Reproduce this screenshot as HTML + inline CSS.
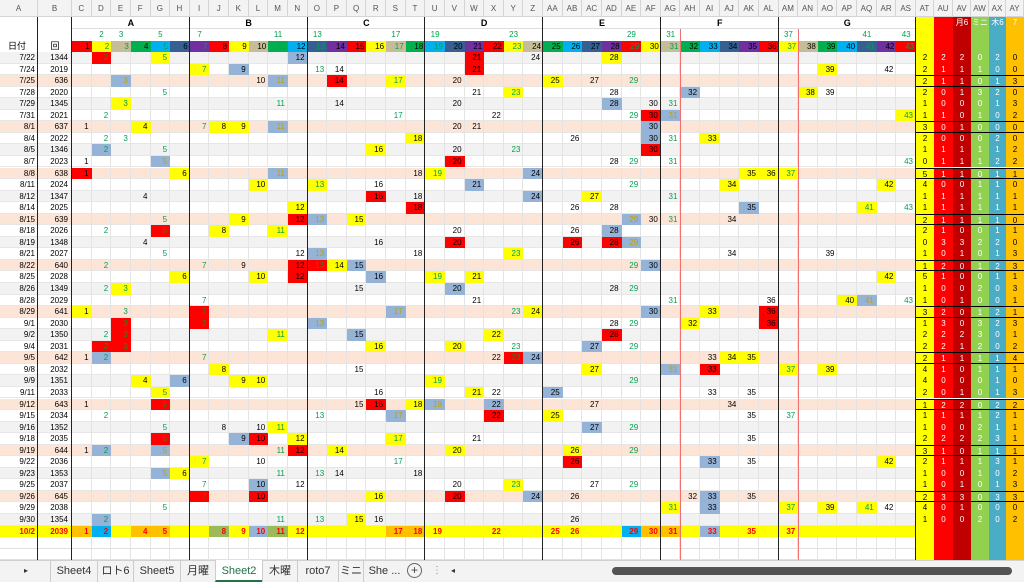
<!DOCTYPE html>
<html><head><meta charset="utf-8"><style>
body{margin:0;width:1024px;height:582px;overflow:hidden;background:#fff;font-family:"Liberation Sans","Noto Sans CJK JP",sans-serif;position:relative}
.c{position:absolute;box-sizing:border-box;text-align:center;white-space:nowrap;overflow:hidden}
.l{position:absolute}
</style></head><body>
<div id="g"></div>
<script>
const g=document.getElementById('g');
let H='';
function box(x,y,w,h,css,txt){H+=`<div class="c" style="left:${x}px;top:${y}px;width:${w}px;height:${h}px;line-height:${h}px;${css}">${txt||''}</div>`;}
const W=(916-72)/43, X=n=>72+(n-1)*W;
const RX=[916,934,953,971,989,1006,1024];
const primes=[2,3,5,7,11,13,17,19,23,29,31,37,41,43];
const RH=11.55, Y0=52;
// column header row
box(0,0,1024,17,'background:#f3f3f3;border-bottom:1px solid #d4d4d4');
const letters=[];
const AZ='ABCDEFGHIJKLMNOPQRSTUVWXYZ';
for(let i=2;i<51;i++){letters.push(i<26?AZ[i]:'A'+AZ[i-26]);}
box(0,0,38,17,'font-size:8px;color:#555;border-right:1px solid #d4d4d4','A');
box(38,0,34,17,'font-size:8px;color:#555;border-right:1px solid #d4d4d4','B');
for(let n=1;n<=43;n++)box(X(n),0,W,17,'font-size:8px;color:#555;border-right:1px solid #d4d4d4',letters[n-1]);
for(let k=0;k<6;k++)box(RX[k],0,RX[k+1]-RX[k],17,'font-size:8px;color:#555;border-right:1px solid #d4d4d4',letters[43+k]);
// grid background rows 17-560
for(let y=17;y<560;y+=11.55){}
// group labels
const groups=[[1,6,'A'],[7,12,'B'],[13,18,'C'],[19,24,'D'],[25,30,'E'],[31,36,'F'],[37,43,'G']];
groups.forEach(([a,b,t])=>box(X(a),17,X(b+1)-X(a),12,'font-size:9px;font-weight:bold;border-bottom:1px solid #ddd',t));
// prime row
primes.forEach(p=>box(X(p),29,W,12,'font-size:8px;color:#00a050',p));
// color header row
const cols=['#ff0000','#ffff00','#c4bd97','#00b050','#00b0f0','#366092','#7030a0'];
box(0,41,38,11,'font-size:9px;text-align:left;padding-left:8px','日付');
box(38,41,34,11,'font-size:9px','回');
for(let n=1;n<=43;n++){const p=primes.includes(n);box(X(n),41,W,11,`background:${cols[(n-1)%7]};font-size:8px;text-align:right;padding-right:2px;color:${p?'#00a050':'#000'}`,n);}
// right header
const rc=['#ffff00','#ff0000','#c00000','#92d050','#4bacc6','#ffc000'];
const rl=['','','月6','ミニ','木6','7'];
for(let k=0;k<6;k++)box(RX[k],17,RX[k+1]-RX[k],35,`background:${rc[k]}`,'');
for(let k=0;k<6;k++)box(RX[k],17,RX[k+1]-RX[k],12,'font-size:8px;color:#fff',rl[k]);
const rows=[
['7/22',1344,'2r 5y 12b 21r 24 28y','2 2 2 0 2 0'],
['7/24',2019,'7y 9b 13 14 21r 39y 42','2 1 1 1 0 0'],
['7/25',636,'3b 10 11b 14r 17y 20 25y 27 29','2 1 1 0 1 3'],
['7/28',2020,'5 21 23y 28 32b 38y 39','2 0 1 3 2 0'],
['7/29',1345,'3y 11 14 20 28b 30 31','1 0 0 0 1 3'],
['7/31',2021,'2 17 22 29 30r 31b 43y','1 1 0 1 0 2'],
['8/1',637,'1 4y 7 8y 9y 11b 20 21 30b','3 0 1 0 0 0'],
['8/4',2022,'2 3 18y 26 30b 31 33y','2 0 0 0 2 0'],
['8/5',1346,'2b 5 16y 20 23 30r','1 1 1 1 1 2'],
['8/7',2023,'1 5b 20r 28 29 31 43','0 1 1 1 2 2'],
['8/8',638,'1r 6y 11b 18 19y 24b 35y 36y 37y','5 1 1 0 1 1'],
['8/11',2024,'10y 13y 16 21b 29 34y 42y','4 0 0 1 1 0'],
['8/12',1347,'4 16r 18 24b 27y 31','1 1 1 1 1 1'],
['8/14',2025,'12y 18r 26 28 35b 41y 43','1 1 1 1 1 1'],
['8/15',639,'5 9y 12r 13b 15y 29b 30 31 34','2 1 1 1 1 0'],
['8/18',2026,'2 5r 8y 11y 20 26 28b','2 1 0 0 1 1'],
['8/19',1348,'4 16 20r 26r 28r 29b','0 3 3 2 2 0'],
['8/21',2027,'5 12 13b 18 23y 34 39','1 0 1 0 1 3'],
['8/22',640,'2 7 9 12r 13r 14y 15b 29 30b','1 2 0 1 2 3'],
['8/25',2028,'6y 10y 12r 16b 19y 21y 42y','5 1 0 0 1 1'],
['8/26',1349,'2 3y 15 20b 28 29','1 0 0 2 0 3'],
['8/28',2029,'7 21 31 36 40y 41b 43','1 0 1 0 0 1'],
['8/29',641,'1y 3 7r 17b 23 24y 30b 33y 36r','3 2 0 1 2 1'],
['9/1',2030,'3r 7r 13b 28 29 32y 36r','1 3 0 3 2 3'],
['9/2',1350,'2 3r 11y 15b 22y 28r','2 2 2 3 0 1'],
['9/4',2031,'2r 3r 16y 20y 23 27b 29','2 2 1 2 0 2'],
['9/5',642,'1 2b 7 22 23r 24b 33 34y 35y','2 1 1 1 1 4'],
['9/8',2032,'8y 15 27y 31b 33r 37y 39y','4 1 0 1 1 1'],
['9/9',1351,'4y 6b 9y 10y 19y 29','4 0 0 0 1 0'],
['9/11',2033,'5y 16 21y 22 25b 33 35','2 0 1 0 1 3'],
['9/12',643,'1 5r 15 16r 18y 19b 22b 27 34','1 2 2 0 2 2'],
['9/15',2034,'2 13 17b 22r 25y 35 37','1 1 1 1 2 1'],
['9/16',1352,'5 8 10 11y 27b 29','1 0 0 2 1 1'],
['9/18',2035,'5r 9b 10r 12y 17y 21 35','2 2 2 2 3 1'],
['9/19',644,'1 2b 5b 11 12r 14y 20y 26y 29','3 1 0 1 1 1'],
['9/22',2036,'7y 10 17 26r 33b 35 42y','2 1 1 1 3 1'],
['9/23',1353,'5b 6y 11 13 14 18','1 0 0 1 0 2'],
['9/25',2037,'7 10b 12 20 23y 27 29','1 0 1 0 1 3'],
['9/26',645,'7r 10r 16y 20r 24b 26 32 33b 35','2 3 3 0 3 3'],
['9/29',2038,'5 31y 33b 37y 39y 41y 42','4 0 1 0 0 0'],
['9/30',1354,'2b 11 13 15y 16 26','1 0 0 2 0 2'],
];
const hl={y:'#ffff00',r:'#ff0000',b:'#95b3d7',o:'#ffc000',c:'#00b0f0',v:'#9bbb59'};
rows.forEach((r,i)=>{
 const y=Y0+i*RH;
 const bg=r[1]<1000?'#fce4d6':(r[1]<2000?'#f2f2f2':'#ffffff');
 box(0,y,916,RH,`background:${bg};border-bottom:1px solid #e6e6e6`);
 for(let n=1;n<=43;n++)box(X(n),y,W,RH,'border-right:1px solid #e4e4e4');
 box(0,y,38,RH,'font-size:8px;text-align:right;padding-right:3px',r[0]);
 box(38,y,34,RH,'font-size:8px;text-align:right;padding-right:4px',r[1]);
 r[2].split(' ').forEach(t=>{const n=parseInt(t),s=t.replace(/\d+/,'');const p=primes.includes(n);
  let col=p?'#00a050':'#000';if(s=='b'&&p&&n%2)col='#c0a000';if(s=='r'&&p)col='#3a7a20';if(s=='y'&&p)col='#00a050';
  box(X(n),y,W,RH,`${s?'background:'+hl[s]+';':''}font-size:8px;text-align:right;padding-right:3px;color:${col}`,n);});
 r[3].split(' ').forEach((v,k)=>box(RX[k],y,RX[k+1]-RX[k],RH,`background:${rc[k]};font-size:8px;color:${k==0||k==5?'#000':'#fff'};${bg=='#fce4d6'?'border-top:1px solid #000;border-bottom:1px solid #000;':''}`,v));
});
// 10/2 row
{const y=Y0+41*RH;
 box(0,y,916,RH,'background:#ffff00');
 box(0,y,38,RH,'font-size:8px;font-weight:bold;color:#f00;text-align:right;padding-right:3px','10/2');
 box(38,y,34,RH,'font-size:8px;font-weight:bold;color:#f00;text-align:right;padding-right:4px','2039');
 '1o 2c 4o 5o 8v 9 10b 11v 12 17o 18o 19 22 25 26 29c 30o 31o 33b 35 37'.split(' ').forEach(t=>{const n=parseInt(t),s=t.replace(/\d+/,'');
  box(X(n),y,W,RH,`${s?'background:'+hl[s]+';':''}font-size:8px;font-weight:bold;text-align:right;padding-right:3px;color:#f00`,n);});
 for(let k=0;k<6;k++)box(RX[k],y,RX[k+1]-RX[k],RH,`background:${rc[k]}`);
}
// empty rows
for(let i=42;i<44;i++){const y=Y0+i*RH;box(0,y,1024,RH,'border-bottom:1px solid #e0e0e0');for(let n=1;n<=43;n++)box(X(n),y,W,RH,'border-right:1px solid #e4e4e4');}
for(let k=0;k<6;k++)box(RX[k],Y0+42*RH,RX[k+1]-RX[k],560-(Y0+42*RH),`background:${rc[k]}`);
// vertical lines
[38,72,X(7),X(13),X(19),X(25),X(31),X(37),916].forEach(x=>H+=`<div class="l" style="left:${Math.round(x)-1}px;top:17px;width:1px;height:543px;background:#222"></div>`);
[X(32),X(38)].forEach(x=>H+=`<div class="l" style="left:${Math.round(x)}px;top:29px;width:1px;height:531px;background:#f07070"></div>`);
// tab bar
box(0,560,1024,22,'background:#f3f3f3;border-top:1px solid #d0d0d0');
box(20,560,12,22,'font-size:8px;color:#333','▸');
const tabs=[[50,97,'Sheet4'],[97,133,'ロト6'],[133,180,'Sheet5'],[180,215,'月曜'],[215,262,'Sheet2'],[262,297,'木曜'],[297,338,'roto7'],[338,363,'ミニ'],[363,405,'She ...']];
tabs.forEach(([a,b,t])=>box(a,560,b-a,22,`font-size:11px;color:${t=='Sheet2'?'#217346':'#333'};border-left:1px solid #ccc;${t=='Sheet2'?'background:#fff;border-bottom:2px solid #217346;':''}`,t));
box(407,563,15,15,'border:1px solid #666;border-radius:50%;font-size:12px;line-height:13px;color:#444','+');
box(432,560,10,22,'font-size:10px;color:#888','⋮');
box(448,560,10,22,'font-size:8px;color:#333','◂');
H+=`<div class="l" style="left:612px;top:567px;width:400px;height:8px;border-radius:4px;background:#555"></div>`;
g.innerHTML=H;
</script>
</body></html>
